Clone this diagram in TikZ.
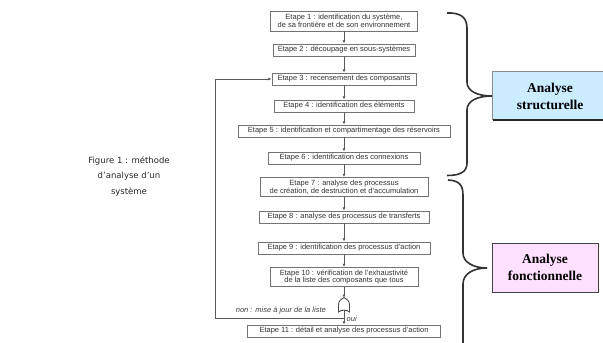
\documentclass[tikz,border=0pt]{standalone}
\usepackage{fontspec}
\setmainfont{Liberation Serif}
\newfontfamily\arialf{Liberation Sans}
\newfontfamily\capf{DejaVu Sans}
\usetikzlibrary{arrows.meta}
\definecolor{sblue}{RGB}{204,236,255}
\definecolor{fpink}{RGB}{255,224,255}
\tikzset{
  stepbox/.style={draw=black!55, line width=0.9pt, fill=white, inner sep=0pt,
    minimum height=12pt, align=center, text=black!80,
    font=\arialf\fontsize{7.5}{7.6}\selectfont},
  arr/.style={-{Latex[length=3.2pt,width=3pt]}, line width=0.9pt, draw=black!65},
  plainline/.style={line width=0.9pt, draw=black!65},
  bracestyle/.style={line width=1.6pt, draw=black!80},
  anabox/.style={inner sep=0pt, align=center, font=\bfseries\fontsize{13.5}{17}\selectfont},
  lbl/.style={inner sep=0pt, text=black!75, font=\arialf\itshape\fontsize{7.5}{8}\selectfont},
}
\begin{document}
\begin{tikzpicture}[x=1pt,y=-1pt]
\useasboundingbox[fill=white] (0,0) rectangle (603,343);

% caption
\node[inner sep=0pt, align=center, text=black!85, font=\capf\fontsize{8.5}{15.5}\selectfont]
  (cap) at (129,176) {Figure 1 : méthode\\d’analyse d’un\\système};

% steps
\node[stepbox, minimum width=147pt, minimum height=20pt] (s1) at (344,21)
  {Etape 1 : identification du système,\\de sa frontière et de son environnement};
\node[stepbox, minimum width=142pt] (s2) at (344,50) {Etape 2 : découpage en sous-systèmes};
\node[stepbox, minimum width=144pt] (s3) at (344,79) {Etape 3 : recensement des composants};
\node[stepbox, minimum width=140pt] (s4) at (344,106) {Etape 4 : identification des éléments};
\node[stepbox, minimum width=212pt] (s5) at (344,131) {Etape 5 : identification et compartimentage des réservoirs};
\node[stepbox, minimum width=152pt] (s6) at (344,158) {Etape 6 : identification des connexions};
\node[stepbox, minimum width=168pt, minimum height=19pt] (s7) at (344,187)
  {Etape 7 : analyse des processus\\de création, de destruction et d’accumulation};
\node[stepbox, minimum width=170pt] (s8) at (344,217) {Etape 8 : analyse des processus de transferts};
\node[stepbox, minimum width=172pt] (s9) at (344,248) {Etape 9 : identification des processus d’action};
\node[stepbox, minimum width=148pt, minimum height=19pt] (s10) at (344,277)
  {Etape  10 : vérification de l’exhaustivité\\de la liste des composants que tous};
\node[stepbox, minimum width=193pt] (s11) at (344,331) {Etape 11 : détail et analyse des processus d’action};

% gate
\node[inner sep=0pt, minimum width=11pt, minimum height=14pt] (gate) at (344,305) {};
\draw[line width=0.9pt, draw=black!70, fill=white]
  (338.5,312) -- (338.5,305) .. controls (338.5,300.5) and (341.5,299) .. (344,297.5)
  .. controls (346.5,299) and (349.5,300.5) .. (349.5,305) -- (349.5,312)
  .. controls (347,309.5) and (341,309.5) .. (338.5,312) -- cycle;

% arrows
\draw[arr] (s1) -- (s2);
\draw[arr] (s2) -- (s3);
\draw[arr] (s3) -- (s4);
\draw[arr] (s4) -- (s5);
\draw[arr] (s5) -- (s6);
\draw[arr] (s6) -- (s7);
\draw[arr] (s7) -- (s8);
\draw[arr] (s8) -- (s9);
\draw[arr] (s9) -- (s10);
\draw[arr] (s10) -- (gate.north);
\draw[arr] (gate.south) ++(0,-2) -- (s11);

% loop back
\coordinate (br) at (344,318);
\coordinate (lc) at (215,318);
\draw[arr] (br) -- (lc) |- (s3.west);
\node[lbl, anchor=east] (non) at (326,310.5) {non : mise à jour de la liste};
\node[lbl, anchor=west] (oui) at (346.5,318.5) {oui};

% braces
\draw[bracestyle]
  (447,13) .. controls (460,12.5) and (467,17) .. (467,28) -- (467,82)
  .. controls (467,91) and (477,96) .. (492,96)
  .. controls (477,96) and (467,101) .. (467,110) -- (467,163)
  .. controls (467,172) and (460,175.5) .. (447,175.5);
\draw[bracestyle]
  (448,180) .. controls (459,180.5) and (463,185) .. (463,195) -- (463,253)
  .. controls (463,262) and (473,268) .. (487,268)
  .. controls (473,268) and (463,274) .. (463,284) -- (463,345);

% analysis boxes
\node[anabox, fill=sblue, minimum width=114pt, minimum height=48pt] (as) at (550,96)
  {Analyse\\structurelle};
\draw[line width=0.8pt, draw=black!45] (as.north east) -- (as.north west) -- (as.south west);
\draw[line width=1.6pt, draw=black!85] (as.south west) -- (as.south east);

\node[anabox, fill=fpink, draw=black!75, line width=1pt, minimum width=106pt, minimum height=49pt]
  (af) at (545,267.5) {Analyse\\fonctionnelle};
\end{tikzpicture}
\end{document}
